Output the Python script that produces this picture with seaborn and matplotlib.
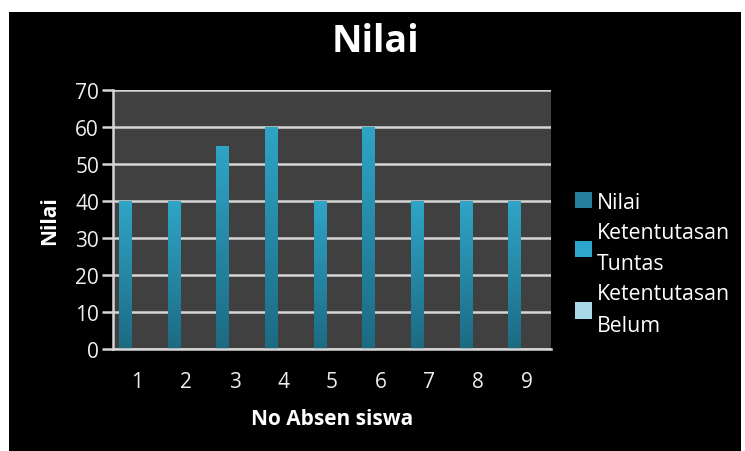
import numpy as np
import pandas as pd
import matplotlib
matplotlib.use("Agg")
import matplotlib.pyplot as plt
from matplotlib.patches import Rectangle, Patch
from matplotlib.colors import LinearSegmentedColormap
import seaborn as sns

# Data
absen = ["1", "2", "3", "4", "5", "6", "7", "8", "9"]
nilai = [40, 40, 55, 60, 40, 60, 40, 40, 40]
tuntas = [0, 0, 0, 0, 0, 0, 0, 0, 0]
belum = [0, 0, 0, 0, 0, 0, 0, 0, 0]
series_labels = ["Nilai", "Ketentutasan\nTuntas", "Ketentutasan\nBelum"]
series_colors = ["#257f9b", "#2ea6cb", "#a9d8e8"]
yticks = [0, 10, 20, 30, 40, 50, 60, 70]

df = pd.DataFrame({
    "absen": absen * 3,
    "nilai": nilai + tuntas + belum,
    "seri": [series_labels[0]] * 9 + [series_labels[1]] * 9 + [series_labels[2]] * 9,
})

sns.set_theme(style="dark")
plt.rcParams['font.family'] = ['Open Sans', 'DejaVu Sans']

W, H = 745, 452
fig = plt.figure(figsize=(W / 100, H / 100), dpi=100, facecolor="white")
# black chart card inside a thin white margin
fig.patches.append(Rectangle((9 / W, 0), (741 - 9) / W, (H - 13) / H,
                             transform=fig.transFigure, facecolor="black",
                             edgecolor="none", zorder=-10))

ax = fig.add_axes([113 / W, 1 - 350 / H, (551 - 113) / W, (350 - 91) / H])
ax.set_facecolor("#404040")

sns.barplot(data=df, x="absen", y="nilai", hue="seri", order=absen,
            hue_order=series_labels, palette=series_colors, width=0.75,
            saturation=1, ax=ax, zorder=3, legend=False, linewidth=0,
            edgecolor="none")

# vertical gradient fill on each bar
grad = LinearSegmentedColormap.from_list("bar", ["#1c6a82", "#2fa5c7"])
ramp = np.linspace(0, 1, 256).reshape(-1, 1)
for p in list(ax.patches):
    x0, w, h = p.get_x(), p.get_width(), p.get_height()
    if not h or np.isnan(h):
        continue
    im = ax.imshow(ramp, cmap=grad, origin="lower", aspect="auto",
                   extent=[x0, x0 + w, 0, h], zorder=4, interpolation="bilinear")
    im.set_clip_path(p)
ax.set_xlim(-0.5, len(absen) - 0.5)
ax.set_ylim(0, 70)
ax.set_yticks(yticks)

grid_c = "#d6d6d6"
ax.grid(axis="y", color=grid_c, linewidth=1.8, zorder=1)
ax.grid(axis="x", visible=False)
ax.set_axisbelow(True)
for side in ["top", "right"]:
    ax.spines[side].set_visible(False)
for side in ["left", "bottom"]:
    ax.spines[side].set_color(grid_c)
    ax.spines[side].set_linewidth(1.8)
    ax.spines[side].set_zorder(5)

ax.tick_params(axis="y", length=8, width=1.8, color=grid_c, labelcolor="#eeeeee",
               labelsize=15, pad=2, left=True)
ax.tick_params(axis="x", length=0, labelcolor="#eeeeee", labelsize=15, pad=16)

ax.set_xlabel("No Absen siswa", color="white", fontsize=15, fontweight="bold")
ax.set_ylabel("Nilai", color="white", fontsize=15, fontweight="bold")
ax.xaxis.set_label_coords(0.5, -(420 - 350) / (350 - 91))
ax.yaxis.set_label_coords((50 - 113) / (551 - 113), 0.5)
ax.xaxis.label.set_va("center")
ax.yaxis.label.set_va("center")

fig.text(375 / W, 1 - 42 / H, "Nilai", ha="center", va="center",
         color="white", fontsize=27, fontweight="bold")

handles = [Patch(facecolor=c, edgecolor="none", label=l)
           for c, l in zip(series_colors, series_labels)]
leg = fig.legend(handles=handles, loc="center left",
                 bbox_to_anchor=(575 / W, 1 - 265 / H), frameon=False,
                 fontsize=15.3, labelcolor="white", handlelength=0.8,
                 handleheight=0.8, handletextpad=0.25, labelspacing=0.42,
                 borderpad=0, borderaxespad=0)
for t in leg.get_texts():
    t.set_linespacing(1.68)

fig.savefig("out.png", dpi=100, facecolor=fig.get_facecolor())
